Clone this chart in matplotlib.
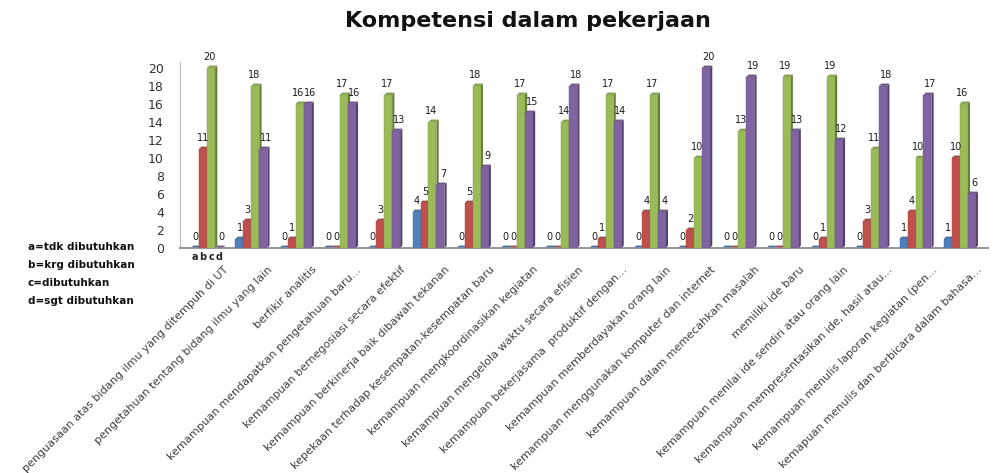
import numpy as np
import matplotlib.pyplot as plt
from matplotlib.patches import Polygon
from matplotlib.colors import to_rgb

kategori = [
    "penguasaan atas bidang ilmu yang ditempuh di UT",
    "pengetahuan tentang bidang ilmu yang lain",
    "berfikir analitis",
    "kemampuan mendapatkan pengetahuan baru...",
    "kemampuan bernegosiasi secara efektif",
    "kemampuan berkinerja baik dibawah tekanan",
    "kepekaan terhadap kesempatan-kesempatan baru",
    "kemampuan mengkoordinasikan kegiatan",
    "kemampuan mengelola waktu secara efisien",
    "kemampuan bekerjasama  produktif dengan...",
    "kemampuan memberdayakan orang lain",
    "kemampuan menggunakan komputer dan internet",
    "kemampuan dalam memecahkan masalah",
    "memiliki ide baru",
    "kemampuan menilai ide sendiri atau orang lain",
    "kemampuan mempresentasikan ide, hasil atau...",
    "kemampuan menulis laporan kegiatan (pen...",
    "kemapuan menulis dan berbicara dalam bahasa...",
]
a = [0, 1, 0, 0, 0, 4, 0, 0, 0, 0, 0, 0, 0, 0, 0, 0, 1, 1]
b = [11, 3, 1, 0, 3, 5, 5, 0, 0, 1, 4, 2, 0, 0, 1, 3, 4, 10]
c = [20, 18, 16, 17, 17, 14, 18, 17, 14, 17, 17, 10, 13, 19, 19, 11, 10, 16]
d = [0, 11, 16, 16, 13, 7, 9, 15, 18, 14, 4, 20, 19, 13, 12, 18, 17, 6]
seri = [a, b, c, d]
nama_seri = ["a", "b", "c", "d"]
warna = ["#4F81BD", "#C0504D", "#9BBB59", "#8064A2"]
keterangan = ["a=tdk dibutuhkan", "b=krg dibutuhkan", "c=dibutuhkan", "d=sgt dibutuhkan"]

fig = plt.figure(figsize=(9.97, 4.73), dpi=100)
ax = fig.add_axes([0.181, 0.476, 0.81, 0.392])

x = np.arange(len(kategori))
w = 0.18
dx = 0.05   # lebar sisi 3d
dy = 0.25   # tinggi atap 3d
geser = [0.0, 0.0, -0.04, 0.05]  # geser label angka biar tidak numpuk

def gelap(col, f=0.65):
    r, g, bb = to_rgb(col)
    return (r * f, g * f, bb * f)

for i, (s, col) in enumerate(zip(seri, warna)):
    pos = x + (i - 1.6) * w
    ax.bar(pos, s, width=w, color=col, edgecolor=gelap(col, 0.8), linewidth=0.3, zorder=3)
    for p, v in zip(pos, s):
        # sisi kanan dan atas (efek 3d)
        sisi = Polygon([(p + w / 2, 0), (p + w / 2 + dx, dy), (p + w / 2 + dx, v + dy), (p + w / 2, v)],
                       closed=True, facecolor=gelap(col), edgecolor="none", zorder=2)
        atap = Polygon([(p - w / 2, v), (p - w / 2 + dx, v + dy), (p + w / 2 + dx, v + dy), (p + w / 2, v)],
                       closed=True, facecolor=gelap(col, 0.85), edgecolor="none", zorder=2)
        ax.add_patch(sisi)
        ax.add_patch(atap)
        ax.text(p + 0.01 + geser[i], v + 0.7, str(v), ha="center", va="bottom", fontsize=7,
                color="#1a1a1a", zorder=4)

# nama seri di bawah kelompok pertama
for i, n in enumerate(nama_seri):
    ax.text(x[0] + (i - 1.6) * w, -0.5, n, ha="center", va="top", fontsize=7,
            family="Liberation Sans Narrow", fontweight="bold", color="#222222")

ax.set_xlim(-0.62, len(kategori) - 0.38)
ax.set_ylim(0, 20.6)
ax.set_yticks(range(0, 21, 2))
ax.tick_params(axis="y", length=0, labelsize=9, colors="#333333", pad=12)
ax.set_xticks(x + 0.35)
ax.set_xticklabels(kategori, rotation=45, ha="right", rotation_mode="anchor",
                   fontsize=8, color="#404040")
ax.tick_params(axis="x", length=0, pad=12)

for sp in ["top", "right"]:
    ax.spines[sp].set_visible(False)
ax.spines["left"].set_color("#bbbbbb")
ax.spines["bottom"].set_color("#999999")
ax.spines["bottom"].set_linewidth(1.5)

fig.text(0.53, 0.955, "Kompetensi dalam pekerjaan", ha="center", va="center",
         fontsize=16, fontweight="bold", color="#111111")

for k, t in enumerate(keterangan):
    fig.text(0.028, 0.478 - k * 0.038, t, ha="left", va="center", fontsize=7.5,
             family="Liberation Sans Narrow", fontweight="bold", color="#111111")

plt.savefig("out.png", dpi=100)
